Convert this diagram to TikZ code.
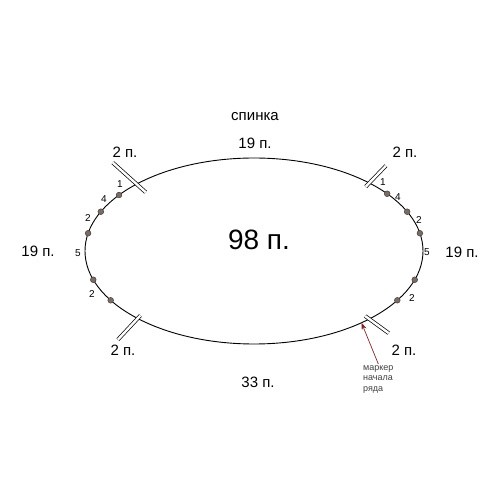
\documentclass[tikz,border=0pt]{standalone}
\usepackage{fontspec}
\setmainfont{Liberation Sans}
\usetikzlibrary{arrows.meta, positioning, calc}

\definecolor{dotfill}{HTML}{7B6B63}
\definecolor{markred}{HTML}{7A2A2A}

\begin{document}
\begin{tikzpicture}[
    x=1pt, y=1pt,
    edge/.style      = {line width=0.9pt},
    tick/.style      = {double, double distance=2.4pt, line width=0.7pt},
    stitch/.style    = {fill=dotfill, draw=black!80, line width=0.4pt},
    count/.style     = {font=\fontsize{15}{17}\selectfont, inner sep=1pt},
    smalltext/.style = {font=\fontsize{10}{12}\selectfont, inner sep=1pt},
    marker/.style    = {-{Stealth[length=7pt, width=5pt, fill=red!70!black]},
                        draw=markred, line width=0.7pt}
  ]
    \useasboundingbox (0,0) rectangle (496,496);

    % back piece
    \coordinate (c) at (254,245);
    \draw[edge] (c) ellipse (169pt and 93pt);
    \node[font=\fontsize{28}{32}\selectfont] (total) at (259,256) {98 п.};

    % points on the outline
    \coordinate (ul) at ($(c)+(134:169pt and 93pt)$);
    \coordinate (ur) at ($(c)+(47:169pt and 93pt)$);
    \coordinate (ll) at ($(c)+(226.5:169pt and 93pt)$);
    \coordinate (lr) at ($(c)+(-47:169pt and 93pt)$);
    \coordinate (mk) at ($(c)+(-50.5:169pt and 93pt)$);

    % seam marks
    \draw[tick] ($(ul)+(138:-12pt)$) -- ($(ul)+(138:32pt)$);
    \draw[tick] ($(ur)+(46:-5pt)$) -- ($(ur)+(46:24pt)$);
    \draw[tick] ($(ll)+(227:-4pt)$) -- ($(ll)+(227:29pt)$);
    \draw[tick] ($(lr)+(-36:-5pt)$) -- ($(lr)+(-36:24pt)$);

    % raglan dots
    \foreach \a in {38,25,11,-18,-32,143,155,169,198,212}
      \draw[stitch] ($(c)+(\a:169pt and 93pt)$) circle (2.9pt);

    % stitch counts
    \node[count] (title) at (255,379) {спинка};
    \node[count] (top)   at (255,353) {19 п.};
    \node[count] (bot)   at (258,114) {33 п.};
    \node[count] (left)  at (38,245)  {19 п.};
    \node[count] (right) at (462,244) {19 п.};
    \node[count] (ulc)   at (125,344) {2 п.};
    \node[count] (urc)   at (405,344) {2 п.};
    \node[count] (llc)   at (123,146) {2 п.};
    \node[count] (lrc)   at (404,146) {2 п.};

    \node[smalltext] (l1) at (120,312) {1};
    \node[smalltext] (l4) at (104,297) {4};
    \node[smalltext] (l2) at (88,278)  {2};
    \node[smalltext] (l5) at (78,243)  {5};
    \node[smalltext] (l6) at (92,202)  {2};
    \node[smalltext] (r1) at (383,314) {1};
    \node[smalltext] (r4) at (398,299) {4};
    \node[smalltext] (r2) at (419,276) {2};
    \node[smalltext] (r5) at (427,244) {5};
    \node[smalltext] (r6) at (412,198) {2};

    % start of row
    \node[align=left, anchor=north west, inner sep=1pt,
          font=\fontsize{9}{10.5}\selectfont, text=black!75] (note) at (362,132)
      {маркер\\начала\\ряда};
    \draw[marker] (note.north) -- (mk);

  \end{tikzpicture}
\end{document}
